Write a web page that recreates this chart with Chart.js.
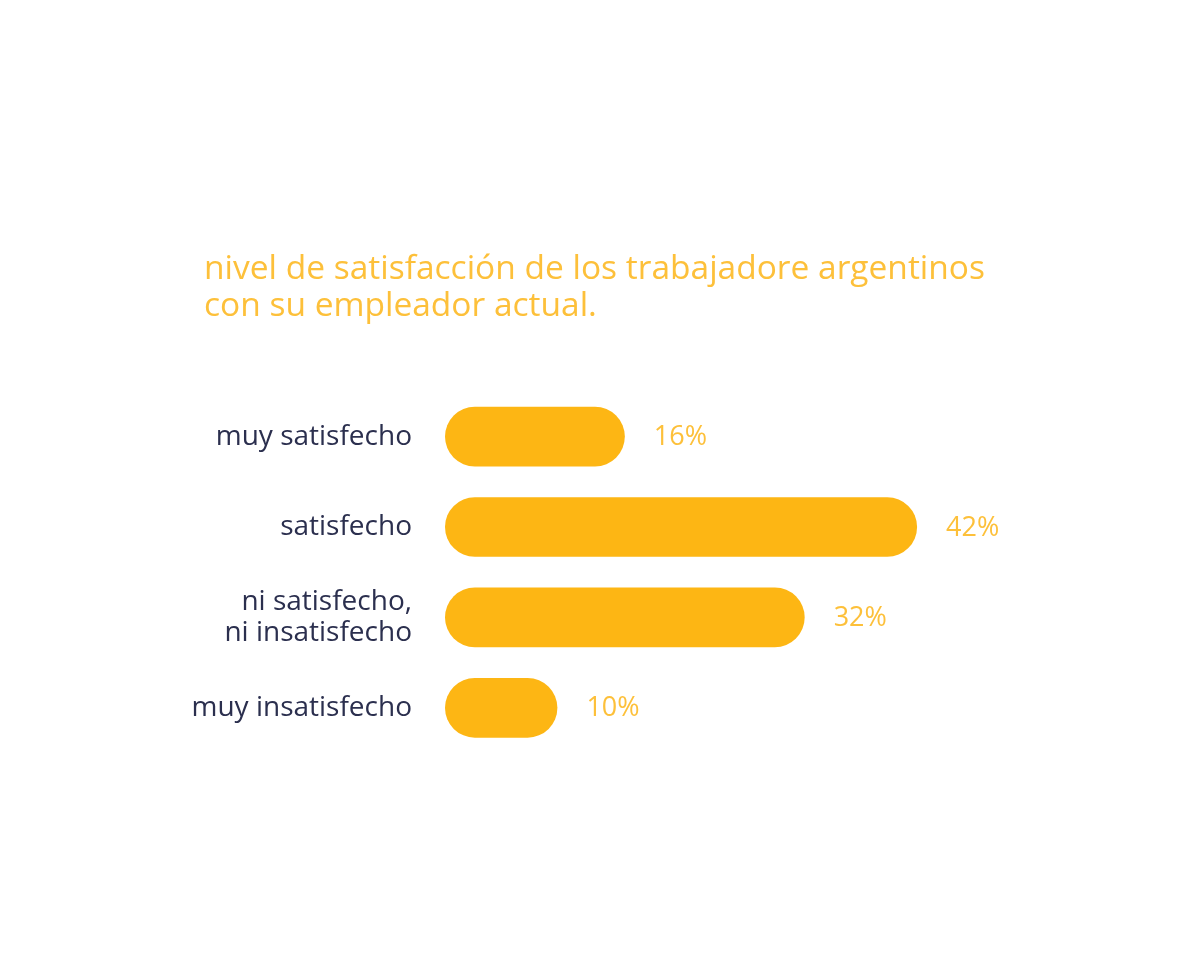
<!DOCTYPE html>
<html>
<head>
<meta charset="utf-8">
<script src="https://cdn.jsdelivr.net/npm/chart.js@4"></script>
<style>
  html, body { margin: 0; padding: 0; background: #ffffff; }
  #wrap { width: 1191px; height: 980px; }
</style>
</head>
<body>
<div id="wrap"><canvas id="chart1"></canvas></div>
<script>
// nivel de satisfaccion - encuesta
var categories = [['muy satisfecho'], ['satisfecho'], ['ni satisfecho,', 'ni insatisfecho'], ['muy insatisfecho']];
var values = [16, 42, 32, 10];
var valueLabels = ['16%', '42%', '32%', '10%'];

var barColor = '#FDB614';
var valueColor = '#FDC03A';
var labelColor = '#2B2F4E';

// draws the percentage next to each bar
var valueLabelPlugin = {
    id: 'valueLabels',
    afterDatasetsDraw: function (chart) {
        var ctx = chart.ctx;
        var meta = chart.getDatasetMeta(0);
        ctx.save();
        ctx.font = '27px "Open Sans"';
        ctx.fillStyle = valueColor;
        ctx.textAlign = 'left';
        ctx.textBaseline = 'middle';
        meta.data.forEach(function (bar, i) {
            ctx.fillText(valueLabels[i], bar.x + 29, bar.y + 1);
        });
        ctx.restore();
    }
};

// title sits a bit right of the axis labels
var titleShift = {
    id: 'titleShift',
    afterLayout: function (chart) {
        if (chart.titleBlock) {
            chart.titleBlock.left += 24;
        }
    }
};

var ctx1 = document.getElementById('chart1').getContext('2d');
var chart1 = new Chart(ctx1, {
    type: 'bar',
    data: {
        labels: categories,
        datasets: [{
            data: values,
            backgroundColor: barColor,
            borderRadius: 30,
            borderSkipped: false,
            categoryPercentage: 1,
            barPercentage: 0.66
        }]
    },
    options: {
        indexAxis: 'y',
        responsive: true,
        maintainAspectRatio: false,
        animation: false,
        layout: {
            padding: { left: 180, top: 251, right: 184, bottom: 227 }
        },
        scales: {
            x: {
                display: false,
                min: 0,
                max: 50
            },
            y: {
                grid: { display: false },
                border: { display: false },
                afterFit: function (scale) { scale.width = 265; },
                ticks: {
                    color: labelColor,
                    padding: 25,
                    font: { family: 'Open Sans', size: 28, lineHeight: 1.1 }
                }
            }
        },
        plugins: {
            legend: { display: false },
            tooltip: { enabled: false },
            title: {
                display: true,
                align: 'start',
                text: ['nivel de satisfacción de los trabajadore argentinos', 'con su empleador actual.'],
                color: valueColor,
                font: { family: 'Open Sans', size: 33.5, weight: 'normal', lineHeight: 1.11 },
                padding: { top: 0, bottom: 66 }
            }
        }
    },
    plugins: [valueLabelPlugin, titleShift]
});
</script>
</body>
</html>
